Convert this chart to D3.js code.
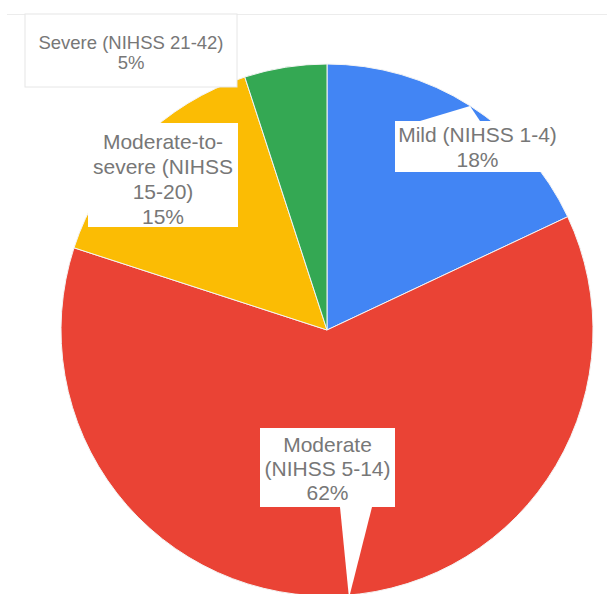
<!DOCTYPE html>
<html>
<head>
<meta charset="utf-8">
<script src="https://cdn.jsdelivr.net/npm/d3@7/dist/d3.min.js"></script>
<style>
  html, body { margin: 0; padding: 0; background: #fff; }
  svg { display: block; }
</style>
</head>
<body>
<svg id="chart" width="607" height="594"></svg>
<script>
// ---- data ----
const categories = ["Mild (NIHSS 1-4)", "Moderate (NIHSS 5-14)", "Moderate-to-severe (NIHSS 15-20)", "Severe (NIHSS 21-42)"];
const values = [18, 62, 15, 5];
const labelLines = [
  ["Mild (NIHSS 1-4)"],
  ["Moderate", "(NIHSS 5-14)"],
  ["Moderate-to-", "severe (NIHSS", "15-20)"],
  ["Severe (NIHSS 21-42)"]
];
const colors = ["#4285F4", "#EA4335", "#FBBC04", "#34A853"];

// ---- layout (label callouts) ----
const layout = [
  { x0: 395, y0: 121, x1: 560, y1: 172, firstY: 135, lh: 25, fs: 21, ptr: [[420,121],[470,106],[480,121]] },
  { x0: 260, y0: 428, x1: 395, y1: 507, firstY: 445, lh: 24, fs: 21, ptr: [[340,507],[349,598],[372,507]] },
  { x0: 88,  y0: 123, x1: 238, y1: 227, firstY: 142, lh: 25, fs: 21, ptr: null },
  { x0: 25,  y0: 14,  x1: 237, y1: 87,  firstY: 43,  lh: 20, fs: 18.5, ptr: null, border: true }
];

const svg = d3.select("#chart");
const cx = 327, cy = 330, r = 266;

// faint top rule
svg.append("line").attr("x1", 7).attr("x2", 607).attr("y1", 14.5).attr("y2", 14.5)
  .attr("stroke", "#ececec").attr("stroke-width", 1);

const pie = d3.pie().sort(null).value(d => d)(values);
const arc = d3.arc().innerRadius(0).outerRadius(r);

const g = svg.append("g").attr("transform", `translate(${cx},${cy})`);
g.selectAll("path.slice").data(pie).join("path")
  .attr("class", "slice")
  .attr("d", arc)
  .attr("fill", (d, i) => colors[i])
  .attr("stroke", "#f4f4f4")
  .attr("stroke-width", 1);

// callouts
const total = d3.sum(values);
const lbl = svg.append("g");
layout.forEach((L, i) => {
  const lines = labelLines[i].concat([Math.round(values[i] / total * 100) + "%"]);
  const grp = lbl.append("g");
  grp.append("rect")
    .attr("x", L.x0).attr("y", L.y0)
    .attr("width", L.x1 - L.x0).attr("height", L.y1 - L.y0)
    .attr("fill", "#fff")
    .attr("stroke", L.border ? "#e6e6e6" : "none");
  if (L.ptr) {
    grp.append("path")
      .attr("d", d3.line()(L.ptr) + "Z")
      .attr("fill", "#fff");
  }
  const cxText = (L.x0 + L.x1) / 2;
  lines.forEach((t, k) => {
    grp.append("text")
      .attr("x", cxText)
      .attr("y", L.firstY + k * L.lh)
      .attr("dy", "0.35em")
      .attr("text-anchor", "middle")
      .attr("font-family", "'Liberation Sans', Arial, sans-serif")
      .attr("font-size", L.fs)
      .attr("fill", "#777")
      .text(t);
  });
});
</script>
</body>
</html>
